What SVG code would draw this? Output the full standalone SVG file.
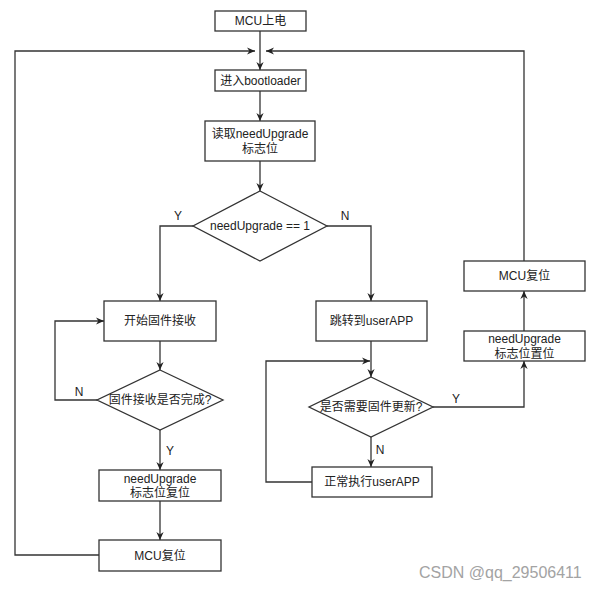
<svg xmlns="http://www.w3.org/2000/svg" width="602" height="590" viewBox="0 0 602 590">
<style>
.box{fill:#fff;stroke:#333;stroke-width:1.3}
.t{font-family:"Liberation Sans","Noto Sans CJK SC",Arial,sans-serif;font-size:12px;fill:#222;text-anchor:middle;dominant-baseline:central}
.e{fill:none;stroke:#333;stroke-width:1.3}
.l{font-family:"Liberation Sans","Noto Sans CJK SC",Arial,sans-serif;font-size:12px;fill:#222;text-anchor:middle;dominant-baseline:central}
.wm{font-family:"Liberation Sans","Noto Sans CJK SC",Arial,sans-serif;font-size:16px;fill:#a3a3a3}
</style>
<defs>
<marker id="a" viewBox="0 0 10 10" refX="10" refY="5" markerWidth="8" markerHeight="8" markerUnits="userSpaceOnUse" orient="auto">
<path d="M0,0.5 L10,5 L0,9.5 L3,5 z" fill="#222"/>
</marker>
</defs>
<rect width="602" height="590" fill="#fff"/>
<g id="edges">
<path class="e" d="M260,31 V70" marker-end="url(#a)"/>
<path class="e" d="M260,91 V121" marker-end="url(#a)"/>
<path class="e" d="M260,161 V191" marker-end="url(#a)"/>
<path class="e" d="M193,226 H160 V301" marker-end="url(#a)"/>
<path class="e" d="M327,226 H371 V301" marker-end="url(#a)"/>
<path class="e" d="M160,341 V370" marker-end="url(#a)"/>
<path class="e" d="M97,400 H55 V321 H104" marker-end="url(#a)"/>
<path class="e" d="M160,430 V470" marker-end="url(#a)"/>
<path class="e" d="M160,501 V540" marker-end="url(#a)"/>
<path class="e" d="M99,555 H15 V51 H255" marker-end="url(#a)"/>
<path class="e" d="M371,341 V377" marker-end="url(#a)"/>
<path class="e" d="M371,437 V467" marker-end="url(#a)"/>
<path class="e" d="M312,482 H266 V361 H370" marker-end="url(#a)"/>
<path class="e" d="M433,407 H524 V361" marker-end="url(#a)"/>
<path class="e" d="M524,331 V291" marker-end="url(#a)"/>
<path class="e" d="M524,261 V51 H266" marker-end="url(#a)"/>
<text class="l" x="178" y="216">Y</text>
<text class="l" x="345" y="216">N</text>
<text class="l" x="79" y="392">N</text>
<text class="l" x="170" y="451">Y</text>
<text class="l" x="380" y="450">N</text>
<text class="l" x="456" y="399">Y</text>
</g>
<g id="n1"><rect class="box" x="215" y="11" width="91" height="20"/><text class="t" x="260.5" y="21">MCU上电</text></g>
<g id="n2"><rect class="box" x="215" y="70" width="91" height="21"/><text class="t" x="260.5" y="80.5">进入bootloader</text></g>
<g id="n3"><rect class="box" x="205" y="121" width="110" height="40"/><text class="t" x="260" y="133.5">读取needUpgrade</text><text class="t" x="260" y="148.5">标志位</text></g>
<g id="n4"><path class="box" d="M260,191 L327,226 L260,261 L193,226 z"/><text class="t" x="260" y="226">needUpgrade == 1</text></g>
<g id="n5"><rect class="box" x="104" y="301" width="112" height="40"/><text class="t" x="160" y="321">开始固件接收</text></g>
<g id="n6"><path class="box" d="M160,370 L223,400 L160,430 L97,400 z"/><text class="t" x="160" y="400">固件接收是否完成?</text></g>
<g id="n7"><rect class="box" x="99" y="470" width="122" height="31"/><text class="t" x="160" y="478.5">needUpgrade</text><text class="t" x="160" y="493">标志位复位</text></g>
<g id="n8"><rect class="box" x="99" y="540" width="122" height="31"/><text class="t" x="160" y="555.5">MCU复位</text></g>
<g id="n9"><rect class="box" x="316" y="301" width="111" height="40"/><text class="t" x="371.5" y="321">跳转到userAPP</text></g>
<g id="n10"><path class="box" d="M371,377 L433,407 L371,437 L309,407 z"/><text class="t" x="371" y="407">是否需要固件更新?</text></g>
<g id="n11"><rect class="box" x="312" y="467" width="120" height="30"/><text class="t" x="372" y="482">正常执行userAPP</text></g>
<g id="n12"><rect class="box" x="464" y="331" width="121" height="30"/><text class="t" x="524.5" y="339">needUpgrade</text><text class="t" x="524.5" y="353.5">标志位置位</text></g>
<g id="n13"><rect class="box" x="464" y="261" width="121" height="30"/><text class="t" x="524.5" y="276">MCU复位</text></g>
<text class="wm" x="419" y="578">CSDN @qq_29506411</text>
</svg>
